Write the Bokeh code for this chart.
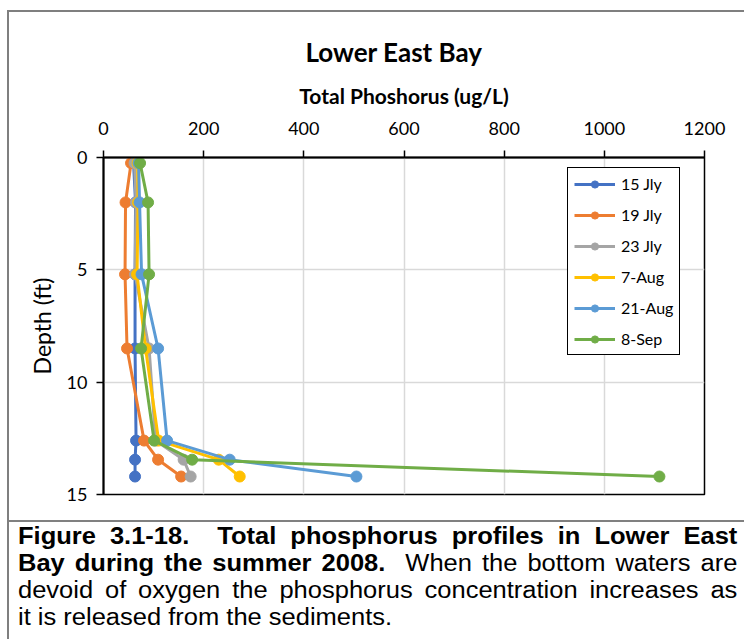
from bokeh.plotting import figure
from bokeh.models import Range1d, FixedTicker, Legend, LegendItem, Div
from bokeh.layouts import column
from bokeh.embed import file_html
from bokeh.resources import INLINE

# ---- data ----
depth = [0.25, 2, 5.2, 8.5, 12.6, 13.45, 14.2]
series_names = ["15 Jly", "19 Jly", "23 Jly", "7-Aug", "21-Aug", "8-Sep"]
tp_15jly = [60, 64, 63, 63, 65, 63, 63]
tp_19jly = [55, 44, 43, 47, 81, 109, 155]
tp_23jly = [62, 65, 63, 91, 104, 160, 174]
tp_7aug = [68, 69, 67, 84, 110, 230, 272]
tp_21aug = [70, 72, 76, 109, 127, 252, 505]
tp_8sep = [73, 89, 91, 75, 101, 177, 1110]
x_ticks = [0, 200, 400, 600, 800, 1000, 1200]
y_ticks = [0, 5, 10, 15]

colors = ["#4472C4", "#ED7D31", "#A5A5A5", "#FFC000", "#5B9BD5", "#70AD47"]
all_vals = [tp_15jly, tp_19jly, tp_23jly, tp_7aug, tp_21aug, tp_8sep]

FONT = "Lato"

p = figure(width=735, height=508, x_range=Range1d(0, 1200), y_range=Range1d(15, 0),
           x_axis_location="above", output_backend="svg", toolbar_location=None,
           min_border_left=94, min_border_right=40, min_border_top=145, min_border_bottom=26)
p.background_fill_color = "white"
p.border_fill_color = "white"
p.outline_line_color = "black"
p.outline_line_width = 1.5

p.title.text = "Lower East Bay"
p.title.align = "left"
p.title.text_font = FONT
p.title.text_font_size = "26px"
p.title.text_font_style = "bold"
p.title.text_color = "black"
p.title.offset = 202
p.title.standoff = 23

# axes
p.xaxis.ticker = FixedTicker(ticks=x_ticks)
p.yaxis.ticker = FixedTicker(ticks=y_ticks)
for ax in (p.xaxis[0], p.yaxis[0]):
    ax.axis_line_color = "black"
    ax.axis_line_width = 2
    ax.major_tick_line_color = "black"
    ax.major_tick_line_width = 1.5
    ax.major_tick_in = 0
    ax.major_tick_out = 7
    ax.minor_tick_line_color = None
    ax.major_label_text_font = FONT
    ax.major_label_text_font_size = "18px"
    ax.major_label_text_color = "black"
    ax.axis_label_text_font = FONT
    ax.axis_label_text_color = "black"

p.xaxis.major_label_standoff = 16
p.xaxis.axis_label = "Total Phoshorus (ug/L)"
p.xaxis.axis_label_text_font_style = "bold"
p.xaxis.axis_label_text_font_size = "21px"
p.xaxis.axis_label_standoff = 11

p.yaxis.major_label_standoff = 9
p.yaxis.axis_label = "Depth (ft)"
p.yaxis.axis_label_text_font_style = "normal"
p.yaxis.axis_label_text_font_size = "23px"
p.yaxis.axis_label_standoff = 8

# grid
p.xgrid.ticker = FixedTicker(ticks=x_ticks)
p.ygrid.ticker = FixedTicker(ticks=y_ticks)
p.grid.grid_line_color = "#D9D9D9"
p.grid.grid_line_width = 1.5

# series
items = []
for name, vals, c in zip(series_names, all_vals, colors):
    ln = p.line(vals, depth, line_color=c, line_width=3)
    sc = p.scatter(vals, depth, size=11, fill_color=c, line_color=c)
    items.append(LegendItem(label=name, renderers=[ln, sc]))

legend = Legend(items=items, location=(464, 139), orientation="vertical")
legend.border_line_color = "black"
legend.border_line_width = 1
legend.border_line_alpha = 1
legend.background_fill_color = "white"
legend.background_fill_alpha = 1
legend.padding = 6
legend.spacing = 12
legend.glyph_height = 18
legend.label_height = 18
legend.glyph_width = 41
legend.label_standoff = 6
legend.margin = 0
legend.label_text_font = FONT
legend.label_text_font_size = "16px"
legend.label_text_color = "black"
p.add_layout(legend, "center")

# caption
SCALE = 1.085
line_w = 720
inner_w = int(line_w / SCALE)
just = "text-align:justify;text-align-last:justify;white-space:normal;"
caption_html = (
    '<div style="border-top:2px solid #808080;width:735px;height:119px;box-sizing:border-box;'
    'padding:1px 0 0 9px;overflow:hidden;background:white;">'
    f'<div style="width:{inner_w}px;transform:scaleX({SCALE});transform-origin:0 0;'
    'font-family:\'Liberation Sans\',Arial,sans-serif;font-size:23.5px;line-height:27px;color:#000;">'
    f'<div style="{just}"><b>Figure 3.1-18.&nbsp; Total phosphorus profiles in Lower East</b></div>'
    f'<div style="{just}"><b>Bay during the summer 2008.</b>&nbsp; When the bottom waters are</div>'
    f'<div style="{just}">devoid of oxygen the phosphorus concentration increases as</div>'
    '<div style="text-align:left;">it is released from the sediments.</div>'
    '</div></div>'
)
caption = Div(text=caption_html, width=735, height=119, margin=(0, 0, 0, 0))

layout = column(p, caption, spacing=0, margin=(10, 0, 0, 7),
                styles={"border-left": "2px solid #7f7f7f", "border-top": "2px solid #7f7f7f"})

open("out.html", "w").write(file_html(layout, INLINE))
